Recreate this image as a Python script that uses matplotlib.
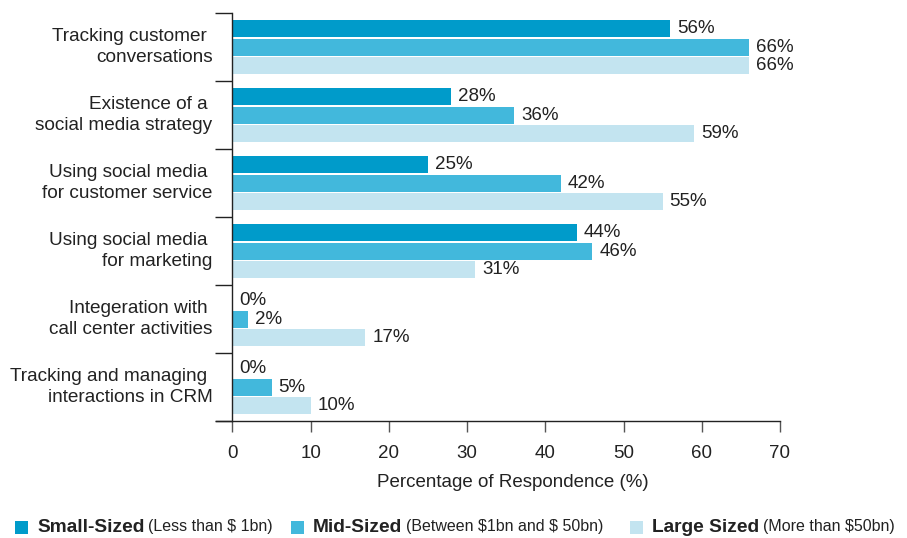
import numpy as np
import matplotlib
matplotlib.use('Agg')
import matplotlib.pyplot as plt
from matplotlib.patches import Rectangle

plt.rcParams['font.family'] = ['Liberation Sans', 'DejaVu Sans']

categories = ["Tracking customer \nconversations",
              "Existence of a \nsocial media strategy",
              "Using social media \nfor customer service",
              "Using social media \nfor marketing",
              "Integeration with \ncall center activities",
              "Tracking and managing \ninteractions in CRM"]
small_sized = [56, 28, 25, 44, 0, 0]
mid_sized = [66, 36, 42, 46, 2, 5]
large_sized = [66, 59, 55, 31, 17, 10]

series_names = ["Small-Sized", "Mid-Sized", "Large Sized"]
series_notes = [r"(Less than \$ 1bn)", r"(Between \$1bn and \$ 50bn)", r"(More than \$50bn)"]
colors = ["#009bca", "#42b8dc", "#c3e4f0"]
txt = "#222222"

fig = plt.figure(figsize=(9.07, 5.38), dpi=100)
ax = fig.add_axes([216 / 907, 1 - 421 / 538, 564 / 907, 408 / 538])

y = np.arange(len(categories))
offsets = [-0.265, 0, 0.265]
for vals, off, c in zip([small_sized, mid_sized, large_sized], offsets, colors):
    ax.barh(y + off, vals, height=0.25, color=c, linewidth=0)
    for yi, v in zip(y, vals):
        ax.annotate(f"{v}%", (v, yi + off), xytext=(7, 0), textcoords='offset pixels',
                    va='center', ha='left', fontsize=13.5, color=txt)

ax.set_xlim(-2.1, 70)
ax.set_ylim(len(categories) - 0.5, -0.5)
ax.spines['top'].set_visible(False)
ax.spines['right'].set_visible(False)
ax.spines['left'].set_position(('data', 0))
for s in ['left', 'bottom']:
    ax.spines[s].set_linewidth(1.0)
    ax.spines[s].set_color('#222222')

ax.set_xticks(np.arange(0, 71, 10))
ax.tick_params(axis='x', direction='out', length=8, width=1.0, pad=9.5,
               labelsize=13.5, labelcolor=txt, color='#555555')
ax.set_yticks(np.arange(-0.5, len(categories)))
ax.set_yticklabels([])
ax.tick_params(axis='y', direction='out', length=12, width=1.0, color='#222222')
for yi, lab in zip(y, categories):
    ax.annotate(lab, (0, yi), xytext=(-20, 0), textcoords='offset pixels',
                ha='right', va='center', multialignment='right',
                fontsize=13.7, color=txt, linespacing=1.3)

ax.set_xlabel("Percentage of Respondence (%)", fontsize=13.5, color=txt)
ax.xaxis.set_label_coords(0.527, -0.13)

# legend row
sq_x = [15, 291, 630]
ly = 527
for x0, name, note, c in zip(sq_x, series_names, series_notes, colors):
    fig.patches.append(Rectangle((x0 / 907, (538 - ly - 6.5) / 538), 13 / 907, 13 / 538,
                                 transform=fig.transFigure, facecolor=c, edgecolor='none'))
    t = fig.text((x0 + 22) / 907, 1 - ly / 538, name, fontsize=13.8, fontweight='bold',
                 color=txt, va='center', ha='left')
    ax.annotate(note, xy=(1, 0.5), xycoords=t, xytext=(4, 0), textcoords='offset pixels',
                va='center', ha='left', fontsize=11.5, color=txt, annotation_clip=False)

fig.savefig("out.png", dpi=100)
